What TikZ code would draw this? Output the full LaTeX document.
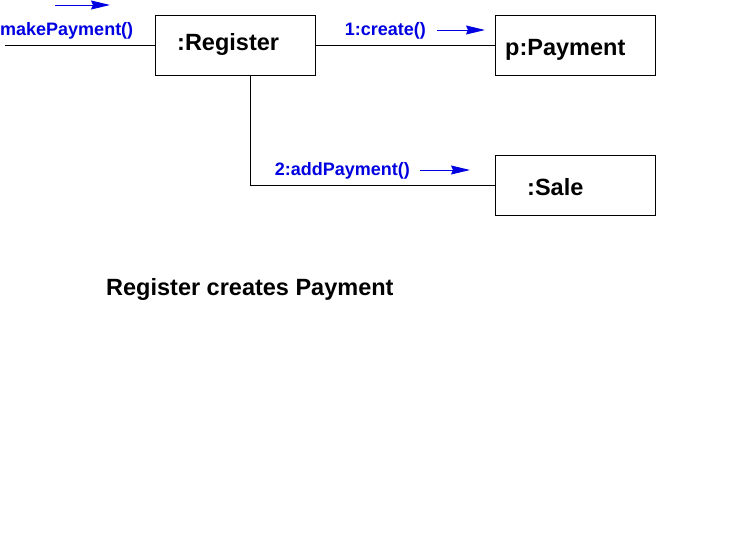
\documentclass[tikz,border=0pt]{standalone}
\usepackage{fontspec}
\setmainfont{Liberation Sans}
\usetikzlibrary{arrows.meta,positioning}

\definecolor{msgblue}{RGB}{0,0,225}
\tikzset{
	obj/.style={draw, line width=1pt, minimum width=160pt, minimum height=60pt, inner sep=0pt},
	objtext/.style={anchor=base west, inner sep=0pt, font=\fontsize{23.5}{28}\selectfont\bfseries},
	msg/.style={text=msgblue, inner sep=0pt, font=\fontsize{18}{21}\selectfont\bfseries},
	msgarrow/.style={msgblue, line width=1pt, -{Stealth[length=19pt, width=9pt, inset=2pt]}}
}

\begin{document}
\begin{tikzpicture}[x=1pt, y=-1pt]
		\useasboundingbox (0,0) rectangle (756,541);
		%Objetos
		\node[obj] (reg) at (235,45) {};
		\node[obj] (pay) at (575,45) {};
		\node[obj] (sale) at (575,185) {};
		\node[objtext] (regtxt) at (177,50) {:Register};
		\node[objtext] (paytxt) at (505,55) {p:Payment};
		\node[objtext] (saletxt) at (527,195) {:Sale};
		%Enlaces
		\coordinate (start) at (5,45);
		\draw[line width=1pt] (start) -- (reg.west);
		\draw[line width=1pt] (reg.east) -- (pay.west);
		\draw[line width=1pt] ([xshift=15pt]reg.south) |- (sale.west);
		%Mensajes
		\node[msg, anchor=base west] (mp) at (0,35) {makePayment()};
		\coordinate (mpa) at (55,5);
		\coordinate (mpb) at (110,5);
		\draw[msgarrow] (mpa) -- (mpb);
		\node[msg, anchor=base east] (cr) at (426,35) {1:create()};
		\draw[msgarrow] ([xshift=11pt,yshift=5pt]cr.base east) -- ++(48,0);
		\node[msg, anchor=base east] (ad) at (410,175) {2:addPayment()};
		\draw[msgarrow] ([xshift=10pt,yshift=5pt]ad.base east) -- ++(50,0);
		%Titulo
		\node[objtext] (title) at (106,295) {Register creates Payment};
		\end{tikzpicture}
\end{document}
